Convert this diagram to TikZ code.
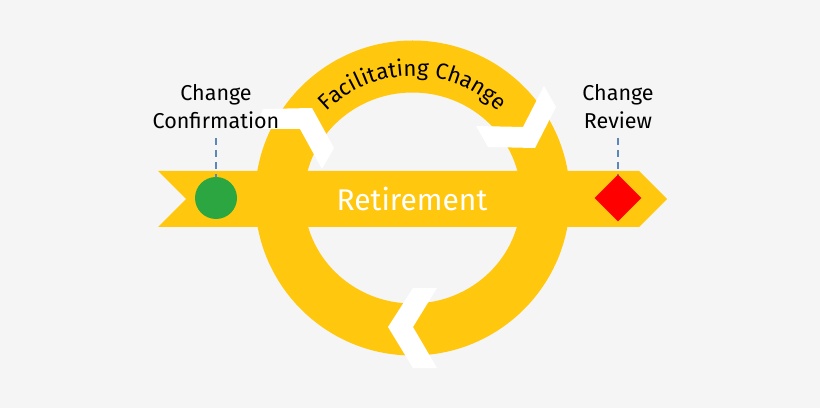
\documentclass[tikz,border=0pt]{standalone}
\usepackage{fontspec}
\setmainfont{Fira Sans}
\usetikzlibrary{decorations.text,shapes.geometric}

\definecolor{ribbon}{HTML}{FFC80F}
\definecolor{paper}{HTML}{F5F5F5}
\definecolor{marker-green}{HTML}{2BA640}
\definecolor{link-blue}{HTML}{5B88B8}

\tikzset{
    chevron/.style={fill=white},
    milestone-label/.style={align=center,font=\fontsize{15.3}{19.9}\selectfont,inner sep=0pt},
    milestone-link/.style={draw=link-blue,line width=0.9pt,dash pattern=on 5pt off 3.5pt}
}

\begin{document}
\begin{tikzpicture}[x=0.025cm,y=0.025cm]
    \path[use as bounding box,fill=paper] (0,0) rectangle (820,408);

    \fill [ribbon,even odd rule] (412.5,210) circle (157.5) (412.5,210) ellipse (108.5 and 105.5);
    \fill [ribbon] (158,237) -- (639,237) -- (667,209) -- (639,181) -- (158,181) -- (186,209) -- cycle;

    \fill [chevron] (263,299) -- (312,300) -- (334,260) -- (322,239) -- (300,279) -- (255,279) -- cycle;
    \fill [chevron] (544,322) -- (556,301) -- (535,260) -- (488,261) -- (476,282) -- (523,281) -- cycle;
    \fill [chevron] (413,120) -- (437,120) -- (413,81) -- (437,40) -- (413,40) -- (388,81) -- cycle;

    \path [decorate,decoration={text along path,text align=center,
        text={|\fontsize{15.8}{18}\selectfont|Facilitating Change}}]
        (412.5,210) ++(140:122) arc (140:40:122);

    \node (retirement-label) at (412,209) [text=white,font=\fontsize{21.3}{26}\selectfont] {Retirement};

    \node (confirmation-marker) at (216,210) [circle,fill=marker-green,minimum size=42*0.025cm,inner sep=0pt] {};
    \node (review-marker) at (618,210) [diamond,fill=red,minimum size=47*0.025cm,inner sep=0pt] {};

    \node (confirmation-label) at (216,301) [milestone-label] {Change\\Confirmation};
    \node (review-label) at (618,301) [milestone-label] {Change\\Review};

    \draw [milestone-link,shorten <=6pt] (confirmation-label) -- (confirmation-marker);
    \draw [milestone-link,shorten <=6pt] (review-label) -- (review-marker);
\end{tikzpicture}
\end{document}
